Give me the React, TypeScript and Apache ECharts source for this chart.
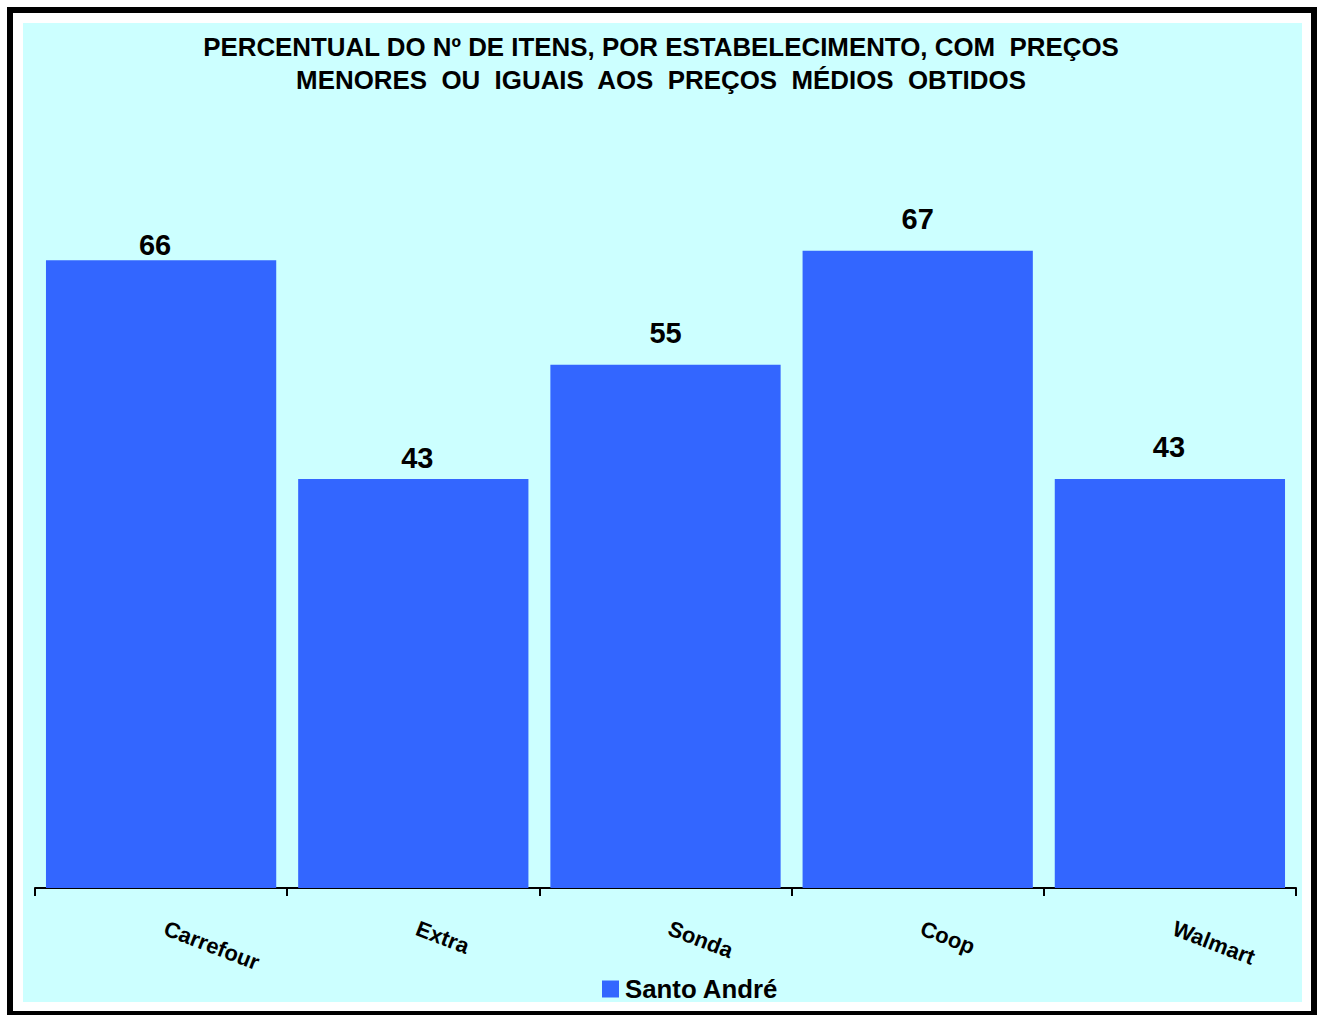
import React, { useEffect, useRef } from "react";
import * as echarts from "echarts";

// ---- data ----
const categories = ["Carrefour", "Extra", "Sonda", "Coop", "Walmart"];
const values = [66, 43, 55, 67, 43];
const seriesName = "Santo André";
const titleLines = [
  "PERCENTUAL DO Nº DE ITENS, POR ESTABELECIMENTO, COM  PREÇOS",
  "MENORES  OU  IGUAIS  AOS  PREÇOS  MÉDIOS  OBTIDOS",
];

// ---- label placement tweaks (style only) ----
const labelDistances = [1, 6, 17, 17, 17];
const labelShiftX = [-6, 4, 0, 0, -1];

const FONT = "'Liberation Sans', Arial, Helvetica, sans-serif";

export default function App() {
  const ref = useRef<HTMLDivElement>(null);

  useEffect(() => {
    document.body.style.margin = "0";
    const chart = echarts.init(ref.current as HTMLDivElement, null, {
      renderer: "svg",
    });
    chart.setOption({
      animation: false,
      backgroundColor: "#ffffff",
      graphic: [
        {
          type: "rect",
          z: -10,
          silent: true,
          shape: { x: 10, y: 10, width: 1304, height: 1004 },
          style: { fill: "#ffffff", stroke: "#000000", lineWidth: 6 },
        },
        {
          type: "rect",
          z: -9,
          silent: true,
          shape: { x: 23, y: 23, width: 1279, height: 979 },
          style: { fill: "#CCFFFF" },
        },
      ],
      title: {
        text: titleLines.join("\n"),
        left: 661,
        textAlign: "center",
        top: 30,
        padding: 0,
        textStyle: {
          fontFamily: FONT,
          fontSize: 25.9,
          fontWeight: "bold",
          color: "#000000",
          lineHeight: 33,
        },
      },
      legend: {
        data: [seriesName],
        left: 602,
        top: 976,
        padding: 0,
        itemWidth: 17,
        itemHeight: 17,
        itemGap: 0,
        icon: "rect",
        textStyle: {
          fontFamily: FONT,
          fontSize: 25.8,
          fontWeight: "bold",
          color: "#000000",
          padding: [0, 0, 0, 1],
        },
      },
      grid: {
        left: 35,
        right: 28,
        top: 127,
        bottom: 127,
        containLabel: false,
      },
      xAxis: {
        type: "category",
        data: categories,
        axisLine: { show: true, lineStyle: { color: "#000000", width: 2 } },
        axisTick: { show: true, length: 8, lineStyle: { color: "#000000", width: 2 } },
        axisLabel: {
          rotate: -21,
          margin: 38,
          interval: 0,
          fontFamily: FONT,
          fontSize: 22,
          fontWeight: "bold",
          color: "#000000",
          padding: [0, 0, 0, 4],
        },
        splitLine: { show: false },
      },
      yAxis: {
        type: "value",
        min: 0,
        max: 80,
        show: false,
        splitLine: { show: false },
      },
      series: [
        {
          name: seriesName,
          type: "bar",
          barCategoryGap: "8.7%",
          itemStyle: { color: "#3366FF" },
          data: values.map((v, i) => ({
            value: v,
            label: {
              distance: labelDistances[i],
              offset: [labelShiftX[i], 0],
            },
          })),
          label: {
            show: true,
            position: "top",
            fontFamily: FONT,
            fontSize: 29,
            fontWeight: "bold",
            color: "#000000",
          },
        },
      ],
    });
    return () => chart.dispose();
  }, []);

  return <div ref={ref} style={{ width: 1324, height: 1015 }} />;
}
